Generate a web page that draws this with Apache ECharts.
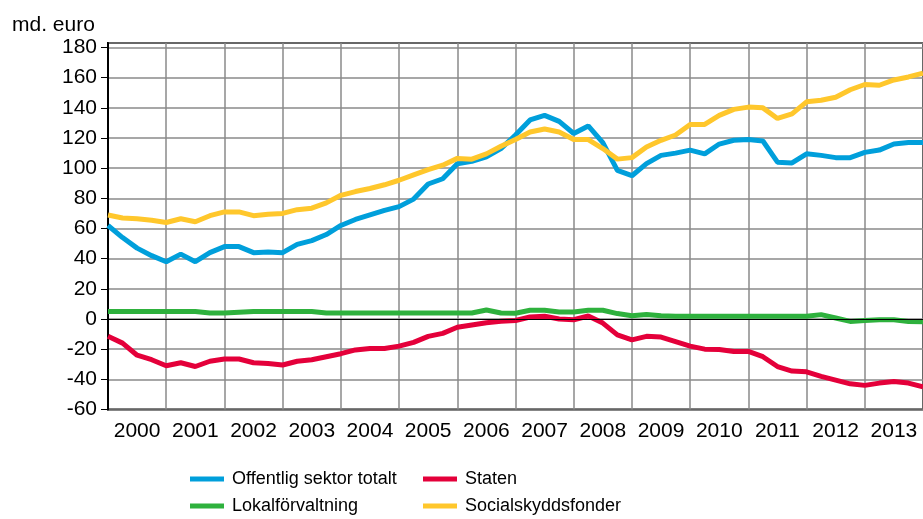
<!DOCTYPE html>
<html>
<head>
<meta charset="utf-8">
<script src="https://cdn.jsdelivr.net/npm/echarts@6/dist/echarts.min.js"></script>
<style>
html, body { margin: 0; padding: 0; background: #fff; }
#chart { width: 923px; height: 519px; }
</style>
</head>
<body>
<div id="chart"></div>
<script>
// year labels under the axis
var years = ['2000', '2001', '2002', '2003', '2004', '2005', '2006',
             '2007', '2008', '2009', '2010', '2011', '2012', '2013'];

// quarterly categories, 2000Q1 .. 2014Q1 (last one runs off the right edge)
var quarters = [];
for (var y = 2000; y <= 2014; y++) {
    for (var q = 1; q <= 4; q++) {
        if (y == 2014 && q > 1) break;
        quarters.push(y + 'Q' + q);
    }
}

// md. euro
var offentlig = [62, 54, 47, 42, 38, 43, 38, 44, 48, 48, 44, 44.5, 44, 49.5, 52,
    56, 62, 66, 69, 72, 74.5, 79.5, 89.5, 93, 103, 104.5, 107.5, 113, 122,
    132, 135, 131, 123, 128, 117, 98.5, 95, 103, 108.5, 110, 112, 109.5, 116,
    118.5, 119, 118, 104, 103.5, 109.5, 108.5, 107, 107, 110.5, 112, 116, 117, 117];

var lokal = [5, 5, 5, 5, 5, 5, 5, 4, 4, 4.5, 5, 5, 5, 5, 5,
    4, 4, 4, 4, 4, 4, 4, 4, 4, 4, 4, 6, 4, 3.8,
    5.8, 5.8, 4.7, 4.7, 5.8, 5.8, 3.6, 2.2, 3, 2.2, 1.8, 1.8, 1.8, 1.8,
    1.8, 1.8, 1.8, 1.8, 1.8, 1.8, 2.9, 0.7, -1.6, -1, -0.5, -0.5, -1.6, -1.8];

var staten = [-11.5, -16, -24, -27, -31, -29, -31.5, -28, -26.5, -26.5, -29, -29.5, -30.5, -28, -27,
    -25, -23, -20.5, -19.5, -19.5, -18, -15.5, -11.5, -9.5, -5.5, -4, -2.5, -1.5, -1,
    1.3, 1.8, 0, -0.5, 2, -2.7, -10.5, -13.8, -11.5, -12, -15, -18, -20, -20.2,
    -21.5, -21.5, -25, -31.5, -34.5, -35, -38, -40.5, -43, -44, -42.5, -41.5, -42.5, -45];

var social = [69, 67, 66.5, 65.5, 64, 66.5, 64.5, 68.5, 71, 71, 68.5, 69.5, 70, 72.5, 73.5,
    77, 82, 84.5, 86.5, 89, 92, 95.5, 99, 102, 106.5, 106, 109.5, 114.5, 119,
    124, 126, 124, 119, 119, 113, 106, 107, 114, 118.5, 122, 129, 129, 135,
    139, 140.5, 140, 133, 136, 144, 145, 147, 152, 155.5, 155, 158.5, 160.5, 163];

var fontName = "'Liberation Sans', Arial, sans-serif";

var myChart = echarts.init(document.getElementById('chart'));

function lineSeries(name, color, data) {
    return {
        name: name,
        type: 'line',
        symbol: 'none',
        smooth: false,
        lineStyle: { width: 5, color: color },
        itemStyle: { color: color },
        data: data
    };
}

// one legend per entry so the two columns line up like the original
function legendItem(name, left, top) {
    return {
        left: left,
        top: top,
        itemWidth: 34,
        itemHeight: 5,
        icon: 'rect',
        data: [name],
        textStyle: { fontSize: 18, color: '#000', fontFamily: fontName, padding: [0, 0, 0, 3] }
    };
}

var lokalSeries = lineSeries('Lokalförvaltning', '#2eb13d', lokal);
lokalSeries.markLine = {
    silent: true,
    symbol: 'none',
    label: { show: false },
    lineStyle: { color: '#000', width: 1, type: 'solid' },
    data: [{ yAxis: 0 }]
};

var option = {
    animation: false,
    backgroundColor: '#fff',
    title: {
        text: 'md. euro',
        left: 7,
        top: 10,
        textStyle: { fontSize: 21, fontWeight: 'normal', color: '#000', fontFamily: fontName }
    },
    legend: [
        legendItem('Offentlig sektor totalt', 185, 465),
        legendItem('Lokalförvaltning', 185, 492),
        legendItem('Staten', 418, 465),
        legendItem('Socialskyddsfonder', 418, 492)
    ],
    grid: {
        left: 108,
        right: -5,
        top: 43,
        bottom: 109.5,
        show: true,
        borderColor: '#000',
        borderWidth: 2,
        containLabel: false
    },
    xAxis: [
        {
            type: 'category',
            data: quarters,
            boundaryGap: false,
            axisLine: { show: false },
            axisTick: { show: false },
            axisLabel: { show: false },
            splitLine: {
                show: true,
                interval: function (index) { return index % 4 === 0; },
                lineStyle: { color: '#8a8a8a', width: 1.5 }
            }
        },
        {
            type: 'category',
            data: years,
            boundaryGap: true,
            position: 'bottom',
            axisLine: { show: false },
            axisTick: { show: false },
            splitLine: { show: false },
            axisLabel: {
                interval: 0,
                margin: 11,
                fontSize: 21,
                color: '#000',
                fontFamily: fontName
            }
        }
    ],
    yAxis: {
        type: 'value',
        min: -60,
        max: 183,
        interval: 20,
        axisLine: { show: true, lineStyle: { color: '#000', width: 2 } },
        axisTick: { show: true, length: 7, lineStyle: { color: '#000', width: 1 } },
        axisLabel: {
            showMaxLabel: false,
            margin: 11,
            fontSize: 21,
            color: '#000',
            fontFamily: fontName
        },
        splitLine: { show: true, lineStyle: { color: '#8a8a8a', width: 1.5 } }
    },
    series: [
        lineSeries('Offentlig sektor totalt', '#009fdb', offentlig),
        lokalSeries,
        lineSeries('Staten', '#e4003a', staten),
        lineSeries('Socialskyddsfonder', '#ffc72c', social)
    ]
};
myChart.setOption(option);
</script>
</body>
</html>
